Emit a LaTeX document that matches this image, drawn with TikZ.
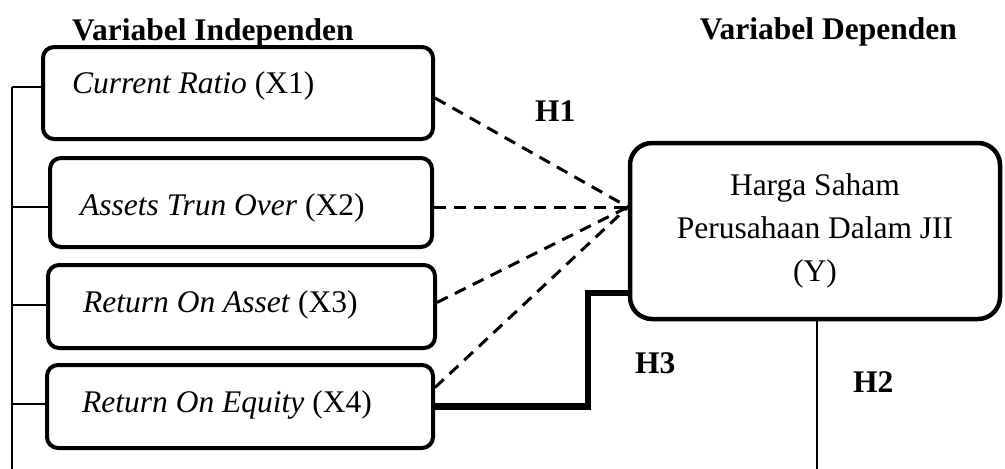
\documentclass[tikz,border=0pt]{standalone}
\usepackage{fontspec}
\setmainfont{Liberation Serif}
\usetikzlibrary{calc}
\begin{document}
\begin{tikzpicture}[x=1pt,y=-1pt,
  every node/.style={font=\fontsize{31.5}{43}\selectfont},
  xbox/.style={draw,line width=4pt,rounded corners=11pt,inner sep=0pt,rectangle},
  ybox/.style={draw,line width=4.5pt,rounded corners=22pt,inner sep=0pt,rectangle,align=center},
  txt/.style={inner sep=0pt,anchor=base west},
  head/.style={inner sep=0pt,font=\fontsize{31.5}{43}\selectfont\bfseries},
  dashline/.style={line width=3pt,dash pattern=on 12pt off 8pt},
  thinline/.style={line width=1.5pt},
  thickline/.style={line width=6.5pt}]
\useasboundingbox (0,0) rectangle (1005,469);
% headers
\node[head,anchor=base west] (hi) at (72,40) {Variabel Independen};
\node[head,anchor=base east] (hd) at (957,39) {Variabel Dependen};
% independent boxes
\node[xbox,minimum width=390pt,minimum height=92pt] (x1) at (238,93) {};
\node[xbox,minimum width=382pt,minimum height=89pt] (x2) at (241,202.5) {};
\node[xbox,minimum width=387pt,minimum height=83pt] (x3) at (241.5,306.5) {};
\node[xbox,minimum width=386pt,minimum height=83pt] (x4) at (240,406.5) {};
\node[txt] (t1) at (72,93) {\textit{Current Ratio} (X1)};
\node[txt] (t2) at (80,215) {\textit{Assets Trun Over} (X2)};
\node[txt] (t3) at (83,312) {\textit{Return On Asset} (X3)};
\node[txt] (t4) at (82,412) {\textit{Return On Equity} (X4)};
% dependent box
\node[ybox,minimum width=370pt,minimum height=176pt] (y) at (815,231)
  {Harga Saham\\Perusahaan Dalam JII\\(Y)};
% left bracket line
\coordinate (ltop) at (12,87);
\coordinate (lbot) at (12,469);
\draw[thinline] (ltop) -- (lbot);
\draw[thinline] (ltop) -- (ltop -| x1.west);
\draw[thinline] (12,207) -- (x2.west |- 0,207);
\draw[thinline] (12,305) -- (x3.west |- 0,305);
\draw[thinline] (12,404) -- (x4.west |- 0,404);
% dashed connectors
\coordinate (conv) at (628,207);
\draw[dashline] ($(x1.east)+(0,5)$) -- (conv);
\draw[dashline] (x2.east |- conv) -- (conv);
\draw[dashline] ($(x3.east)+(0,-4)$) -- (conv);
\draw[dashline] ($(x4.east)+(0,-19)$) -- (conv);
% thick H3 connector
\coordinate (bend) at (588,293);
\draw[thickline] (x4.east) -| (bend) -- (bend -| y.west);
% H2 line
\coordinate (ybot) at (817,469);
\draw[thinline] (ybot |- y.south) -- (ybot);
% labels
\node[head,anchor=base west] (h1) at (535,121) {H1};
\node[head,anchor=base west] (h3) at (635,373) {H3};
\node[head,anchor=base west] (h2) at (853,392) {H2};
\end{tikzpicture}
\end{document}
